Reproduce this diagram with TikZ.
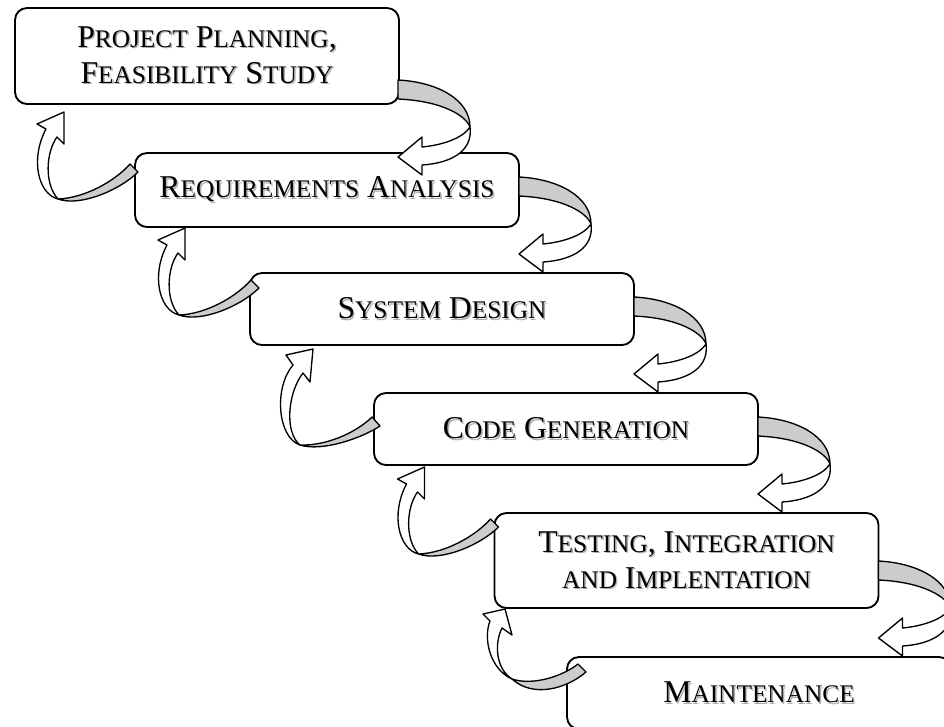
\documentclass[tikz,border=0pt]{standalone}
\usepackage{fontspec}
\setmainfont{Liberation Serif}
\usetikzlibrary{calc}

% capital + small-capital letters, and a soft drop shadow behind each line
\newcommand\fullsz{\fontsize{23.8pt}{27pt}\selectfont}
\newcommand\smsz{\fontsize{19pt}{27pt}\selectfont}
\newcommand\sccap[2]{#1{\smsz #2}}
\newcommand\shad[1]{\leavevmode\rlap{\kern1.1pt\raisebox{-1.1pt}{\textcolor{black!32}{#1}}}#1}

\tikzset{
  stage/.style={draw, line width=1.4pt, rounded corners=9pt, fill=white,
    align=center, font=\fullsz, outer sep=0pt, inner sep=0pt,
    minimum width=288pt},
  ribbon/.style={draw, line width=1pt, line join=round},
  backside/.style={ribbon, fill=black!20},
  frontside/.style={ribbon, fill=white},
  % ribbon arrow leaving a box on the right and turning down-left
  pics/downturn/.style={code={
    \path[backside] (0,0) .. controls (40,2) and (72,20) .. (72,47)
      .. controls (68,36) and (45,21) .. (0,19) -- cycle;
    \path[frontside] (72,47) .. controls (75,70) and (55,83) .. (24,85)
      -- (24,95) -- (0,77) -- (24,57) -- (24,67)
      .. controls (45,65) and (65,58) .. (72,47) -- cycle;
  }},
  % ribbon arrows leaving a box on the left and turning up
  pics/upturn/.style={code={
    \path[backside] (0,0) .. controls (-15,17) and (-45,34) .. (-72,35)
      .. controls (-50,43) and (-10,26) .. (8,8) -- cycle;
    \path[frontside] (-72,35) .. controls (-92,30) and (-100,-5) .. (-84,-35)
      -- (-93,-40) -- (-66,-52) -- (-66,-20) -- (-73,-27)
      .. controls (-84,-12) and (-86,20) .. (-72,35) -- cycle;
  }},
  pics/upturntall/.style={code={
    \path[backside] (0,0) .. controls (-15,15) and (-45,29) .. (-72,28)
      .. controls (-50,35) and (-10,21) .. (8,9) -- cycle;
    \path[frontside] (-72,28) .. controls (-95,20) and (-98,-30) .. (-79,-52)
      -- (-86,-62) -- (-59,-68) -- (-62,-35) -- (-69,-44)
      .. controls (-84,-25) and (-88,15) .. (-72,28) -- cycle;
  }},
  pics/upturnshort/.style={code={
    \path[backside] (0,0) .. controls (-15,12) and (-45,22) .. (-66,15)
      .. controls (-45,34) and (-12,25) .. (8,8) -- cycle;
    \path[frontside] (-66,15) .. controls (-88,5) and (-95,-25) .. (-88,-43)
      -- (-95,-50) -- (-73,-55) -- (-66,-29) -- (-76,-36)
      .. controls (-84,-20) and (-82,5) .. (-66,15) -- cycle;
  }},
}

\begin{document}
\begin{tikzpicture}[x=0.75pt, y=-0.75pt]
  \useasboundingbox (0,0) rectangle (944,726);
  \clip (0,0) rectangle (944,726);
  \fill[white] (0,0) rectangle (944,726);

  % stages of the process
  \node[stage, minimum height=72pt] (b1) at (207,56)
    {\shad{\sccap{P}{ROJECT} \sccap{P}{LANNING},}\\
     \shad{\sccap{F}{EASIBILITY} \sccap{S}{TUDY}}};
  \node[stage, minimum height=55.5pt] (b2) at (327,190)
    {\shad{\sccap{R}{EQUIREMENTS} \sccap{A}{NALYSIS}}};
  \node[stage, minimum height=54pt] (b3) at (442,309)
    {\shad{\sccap{S}{YSTEM} \sccap{D}{ESIGN}}};
  \node[stage, minimum height=54pt] (b4) at (566,429)
    {\shad{\sccap{C}{ODE} \sccap{G}{ENERATION}}};
  \node[stage, minimum height=71.25pt] (b5) at (686.5,560.5)
    {\shad{\sccap{T}{ESTING}, \sccap{I}{NTEGRATION}}\\
     \shad{{\smsz AND} \sccap{I}{MPLENTATION}}};
  \node[stage, minimum height=54pt] (b6) at (759,693)
    {\shad{\sccap{M}{AINTENANCE}}};

  % forward turns on the right side
  \pic at ($(b1.north east)+(-1,72)$) {downturn};
  \pic at ($(b2.north east)+(0,24)$) {downturn};
  \pic at ($(b3.north east)+(0,24)$) {downturn};
  \pic at ($(b4.north east)+(0,24)$) {downturn};
  \pic at ($(b5.north east)+(0,48)$) {downturn};

  % return turns on the left side
  \begin{scope}[shift={($(b2.north west)+(-5,11)$)}, xscale=1.13, yscale=1.05]
    \pic {upturn};
  \end{scope}
  \pic at ($(b3.north west)+(1,7)$) {upturn};
  \pic at ($(b4.north west)+(-2,24)$) {upturntall};
  \pic at ($(b5.north west)+(-4,6)$) {upturn};
  \pic at ($(b6.north west)+(11,7)$) {upturnshort};
\end{tikzpicture}
\end{document}
